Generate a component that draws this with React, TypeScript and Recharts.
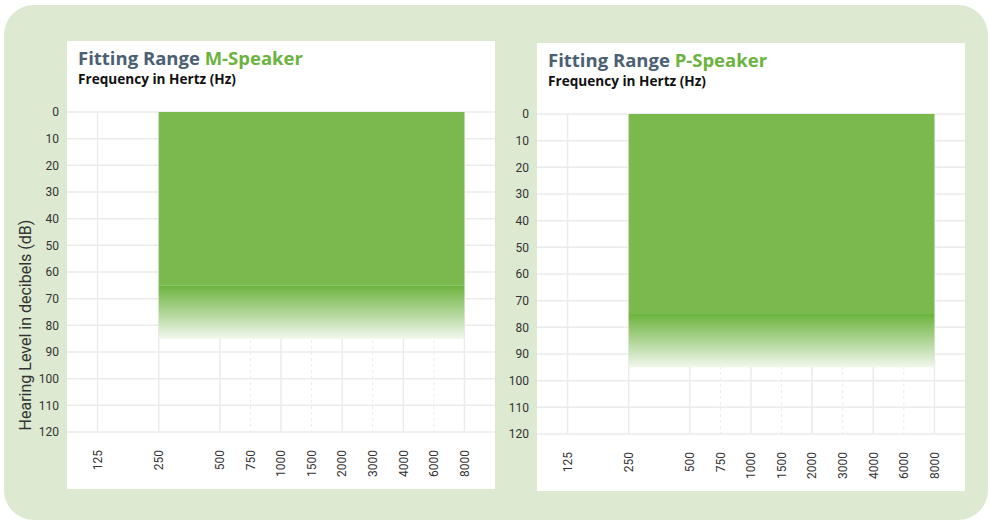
import React from "react";
import { ComposedChart, Area, XAxis, YAxis, CartesianGrid } from "recharts";

// Audiogram frequency axis: octaves on whole steps, half-octaves in between
const FREQ_LABELS = ["125", "250", "500", "750", "1000", "1500", "2000", "3000", "4000", "6000", "8000"];
const FREQ_POS = [0, 1, 2, 2.5, 3, 3.5, 4, 4.5, 5, 5.5, 6];
const DB_TICKS = [0, 10, 20, 30, 40, 50, 60, 70, 80, 90, 100, 110, 120];

// Fitting ranges (frequency span + hearing level, dB)
const M_SPEAKER_FREQ = [1, 6];
const M_SPEAKER_FIT = [0, 65];
const M_SPEAKER_FADE = [65, 85];

const P_SPEAKER_FREQ = [1, 6];
const P_SPEAKER_FIT = [0, 75];
const P_SPEAKER_FADE = [75, 95];

const GREEN = "#7ab94e";
const GREEN_DARK = "#6bb43f";
const SLATE = "#4b6173";
const GRID = "#ebebeb";
const TICK_FONT = "Roboto, 'DejaVu Sans Condensed', sans-serif";

const octaves = FREQ_POS.filter((p) => Number.isInteger(p));
const halfOctaves = FREQ_POS.filter((p) => !Number.isInteger(p));

function FreqTick(props: any) {
  const { x, y, payload } = props;
  const idx = FREQ_POS.indexOf(payload.value);
  const ty = y + 10;
  return (
    <text
      x={x}
      y={ty}
      dy="0.36em"
      transform={`rotate(-90, ${x}, ${ty})`}
      textAnchor="end"
      fill="#333"
      fontSize={12}
      fontFamily={TICK_FONT}
    >
      {FREQ_LABELS[idx]}
    </text>
  );
}

interface PanelProps {
  id: string;
  name: string;
  freq: number[];
  fit: number[];
  fade: number[];
  left: number;
  top: number;
}

function SpeakerPanel({ id, name, freq, fit, fade, left, top }: PanelProps) {
  const data = freq.map((f) => ({ pos: f, fit, fade }));
  return (
    <div style={{ position: "absolute", left, top, width: 495, height: 500 }}>
      <div
        style={{
          position: "absolute",
          left: 67,
          top: 41,
          width: 428,
          height: 448,
          background: "#fff",
        }}
      />
      <div
        style={{
          position: "absolute",
          left: 78,
          top: 46,
          fontFamily: "'Open Sans', Lato, sans-serif",
          whiteSpace: "nowrap",
        }}
      >
        <div style={{ fontSize: 18.5, fontWeight: 700, color: SLATE, lineHeight: "24px" }}>
          Fitting Range <span style={{ color: "#6cb33f" }}>{name}</span>
        </div>
        <div style={{ fontSize: 13.6, fontWeight: 700, color: "#111", lineHeight: "18px" }}>
          Frequency in Hertz (Hz)
        </div>
      </div>
      <ComposedChart
        width={495}
        height={500}
        data={data}
        margin={{ top: 112, right: 0, bottom: 0, left: 0 }}
        style={{ position: "absolute", left: 0, top: 0 }}
      >
        <defs>
          <linearGradient id={`fade-${id}`} x1="0" y1="0" x2="0" y2="1">
            <stop offset="0%" stopColor={GREEN_DARK} />
            <stop offset="6%" stopColor="#74b747" />
            <stop offset="100%" stopColor="#f1f7ed" />
          </linearGradient>
        </defs>
        <CartesianGrid stroke={GRID} strokeWidth={1.5} verticalValues={octaves} horizontalValues={DB_TICKS} />
        <CartesianGrid
          stroke={GRID}
          strokeWidth={1}
          strokeDasharray="3 3"
          horizontal={false}
          verticalValues={halfOctaves}
        />
        <XAxis
          dataKey="pos"
          type="number"
          domain={[-0.5, 6.5]}
          ticks={FREQ_POS}
          interval={0}
          axisLine={false}
          tickLine={false}
          height={68}
          tick={<FreqTick />}
        />
        <YAxis
          type="number"
          domain={[0, 120]}
          ticks={DB_TICKS}
          reversed
          interval={0}
          width={67}
          axisLine={false}
          tickLine={false}
          tick={{ fontSize: 12, fill: "#333", fontFamily: TICK_FONT }}
        />
        <Area
          dataKey="fade"
          type="linear"
          stroke="none"
          fill={`url(#fade-${id})`}
          fillOpacity={1}
          isAnimationActive={false}
        />
        <Area
          dataKey="fit"
          type="linear"
          stroke="none"
          fill={GREEN}
          fillOpacity={1}
          isAnimationActive={false}
        />
      </ComposedChart>
    </div>
  );
}

export default function App() {
  return (
    <div style={{ position: "absolute", left: 0, top: 0, width: 990, height: 523, background: "#fff" }}>
      <div
        style={{
          position: "absolute",
          left: 4,
          top: 5,
          width: 984,
          height: 515,
          borderRadius: 30,
          background: "#dde9d0",
        }}
      />
      <SpeakerPanel
        id="m"
        name="M-Speaker"
        freq={M_SPEAKER_FREQ}
        fit={M_SPEAKER_FIT}
        fade={M_SPEAKER_FADE}
        left={0}
        top={0}
      />
      <SpeakerPanel
        id="p"
        name="P-Speaker"
        freq={P_SPEAKER_FREQ}
        fit={P_SPEAKER_FIT}
        fade={P_SPEAKER_FADE}
        left={470}
        top={2}
      />
      <div
        style={{
          position: "absolute",
          left: 25,
          top: 325,
          transform: "translate(-50%, -50%) rotate(-90deg)",
          fontFamily: TICK_FONT,
          fontSize: 16,
          color: "#333",
          whiteSpace: "nowrap",
        }}
      >
        Hearing Level in decibels (dB)
      </div>
    </div>
  );
}
